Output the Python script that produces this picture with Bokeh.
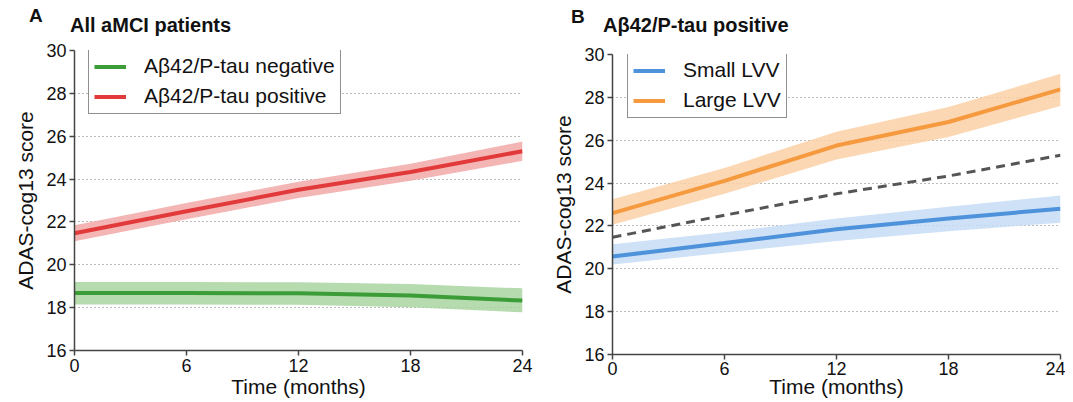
from bokeh.plotting import figure
from bokeh.layouts import row, column
from bokeh.models import Range1d, Legend, LegendItem, FixedTicker, Div
from bokeh.embed import file_html
from bokeh.resources import INLINE

months = [0, 6, 12, 18, 24]

# Panel A
neg_mean = [18.68, 18.68, 18.67, 18.57, 18.33]
neg_lo = [18.15, 18.15, 18.13, 18.02, 17.78]
neg_hi = [19.20, 19.20, 19.18, 19.10, 18.90]
pos_mean = [21.47, 22.50, 23.50, 24.33, 25.30]
pos_lo = [21.10, 22.12, 23.12, 23.92, 24.85]
pos_hi = [21.85, 22.88, 23.88, 24.72, 25.75]

# Panel B
small_mean = [20.57, 21.20, 21.85, 22.35, 22.80]
small_lo = [20.20, 20.75, 21.30, 21.75, 22.15]
small_hi = [21.15, 21.70, 22.35, 22.90, 23.42]
large_mean = [22.60, 24.10, 25.75, 26.85, 28.37]
large_lo = [22.05, 23.50, 25.10, 26.15, 27.60]
large_hi = [23.25, 24.70, 26.40, 27.55, 29.10]

y_ticks = [16, 18, 20, 22, 24, 26, 28, 30]
x_ticks = [0, 6, 12, 18, 24]

FONT = "Liberation Sans"
GREEN, GREEN_B = "#3c9c38", "#a8d5a0"
RED, RED_B = "#e23a3a", "#f2a8a8"
BLUE, BLUE_B = "#4f92dc", "#c6dcf4"
ORANGE, ORANGE_B = "#f59a3e", "#fbd0a6"


def header(width, height, letter, lx, ltop, title, tx, ttop):
    html = (
        f'<div style="position:relative;width:{width}px;height:{height}px;'
        f'font-family:\'{FONT}\';color:#111111;font-weight:bold;font-size:19px;">'
        f'<span style="position:absolute;left:{lx}px;top:{ltop}px;font-size:19px;'
        f'line-height:1;white-space:nowrap;">{letter}</span>'
        f'<span style="position:absolute;left:{tx}px;top:{ttop}px;font-size:20px;'
        f'line-height:1;white-space:nowrap;">{title}</span></div>'
    )
    return Div(text=html, width=width, height=height, margin=0)


def make_fig(width, height, left, right, bottom, tick_standoff, label_standoff):
    p = figure(width=width, height=height, output_backend="svg", toolbar_location=None,
               x_range=Range1d(0, 24), y_range=Range1d(16, 30),
               min_border_left=left, min_border_right=right,
               min_border_top=10, min_border_bottom=bottom, margin=0)
    p.outline_line_color = None
    p.xgrid.grid_line_color = None
    p.ygrid.grid_line_color = "#777777"
    p.ygrid.grid_line_dash = "1 3"
    p.ygrid.grid_line_width = 1.2
    p.ygrid.ticker = FixedTicker(ticks=[18, 20, 22, 24, 26, 28, 30])
    p.xaxis.ticker = FixedTicker(ticks=x_ticks)
    p.yaxis.ticker = FixedTicker(ticks=y_ticks)
    for ax in (p.xaxis[0], p.yaxis[0]):
        ax.axis_line_color = "#444444"
        ax.axis_line_width = 1.5
        ax.major_tick_line_color = "#444444"
        ax.major_tick_line_width = 1.5
        ax.major_tick_out = 5
        ax.major_tick_in = 0
        ax.minor_tick_line_color = None
        ax.major_label_text_font = FONT
        ax.major_label_text_font_size = "18px"
        ax.major_label_text_color = "#111111"
        ax.axis_label_text_font = FONT
        ax.axis_label_text_font_size = "21px"
        ax.axis_label_text_font_style = "normal"
        ax.axis_label_text_color = "#111111"
    p.xaxis.axis_label = "Time (months)"
    p.yaxis.axis_label = "ADAS-cog13 score"
    p.xaxis.major_label_standoff = tick_standoff
    p.xaxis.axis_label_standoff = label_standoff
    p.yaxis.major_label_standoff = 3
    p.yaxis.axis_label_standoff = 6
    return p


def add_legend(p, items, loc):
    leg = Legend(items=items, location=loc, margin=0)
    leg.border_line_color = "#222222"
    leg.border_line_width = 1.5
    leg.label_text_font = FONT
    leg.label_text_font_size = "21px"
    leg.label_text_color = "#111111"
    leg.glyph_width = 32
    leg.glyph_height = 23
    leg.label_height = 23
    leg.label_standoff = 18
    leg.padding = 5
    leg.spacing = 6
    leg.background_fill_alpha = 1
    p.add_layout(leg)


# Panel A
ha = header(540, 40, "A", 29, 6, "All aMCI patients", 70, 15)
pa = make_fig(540, 362, 74, 18, 52, 3, 0)
pa.varea(x=months, y1=neg_lo, y2=neg_hi, fill_color=GREEN_B, fill_alpha=0.85)
pa.varea(x=months, y1=pos_lo, y2=pos_hi, fill_color=RED_B, fill_alpha=0.85)
ln = pa.line(months, neg_mean, line_color=GREEN, line_width=4)
lp = pa.line(months, pos_mean, line_color=RED, line_width=4)
add_legend(pa, [LegendItem(label="A\u03b242/P-tau negative", renderers=[ln]),
                LegendItem(label="A\u03b242/P-tau positive", renderers=[lp])], (14, 236))

# Panel B
hb = header(525, 44, "B", 31, 7, "A\u03b242/P-tau positive", 63, 15)
pb = make_fig(525, 358, 72, 5, 48, 2, -3)
pb.varea(x=months, y1=small_lo, y2=small_hi, fill_color=BLUE_B, fill_alpha=0.85)
pb.varea(x=months, y1=large_lo, y2=large_hi, fill_color=ORANGE_B, fill_alpha=0.85)
pb.line(months, pos_mean, line_color="#555555", line_width=3, line_dash="9 6")
ls = pb.line(months, small_mean, line_color=BLUE, line_width=4)
ll = pb.line(months, large_mean, line_color=ORANGE, line_width=4)
add_legend(pb, [LegendItem(label="Small LVV", renderers=[ls]),
                LegendItem(label="Large LVV", renderers=[ll])], (15, 236))

layout = row(column(ha, pa, spacing=0), column(hb, pb, spacing=0), spacing=0)
open("out.html", "w").write(file_html(layout, INLINE))
